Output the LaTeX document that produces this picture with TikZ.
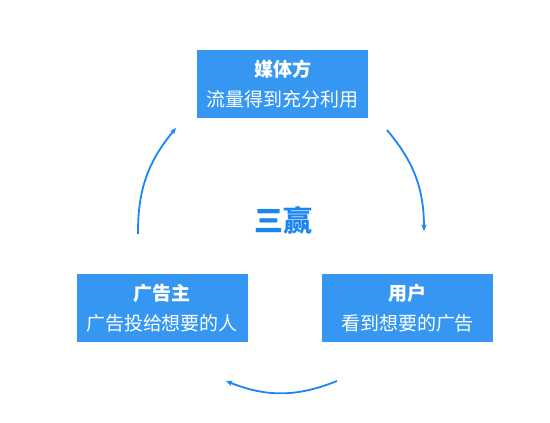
\documentclass[tikz,border=0pt]{standalone}
\usepackage{fontspec}
\setmainfont{Noto Sans CJK SC}
\usepackage{xcolor}
\usepackage{tikz}
\usetikzlibrary{arrows.meta, positioning}

\definecolor{boxblue}{HTML}{3597F1}
\definecolor{arcblue}{HTML}{1C86F0}

\begin{document}
\begin{tikzpicture}[x=1pt,y=1pt,>={Stealth[length=6.5pt,width=5.5pt]}]
	\tikzstyle{party}=[fill=boxblue, text=white, minimum width=171pt, minimum height=68pt, inner sep=0pt, align=center, font=\fontsize{19}{30}\selectfont]
	\useasboundingbox (0,0) rectangle (550,423);

	\node[party] (media) at (282.5,339) {{\bfseries 媒体方}\\流量得到充分利用};
	\node[party] (adv) at (162,114.5) {{\bfseries 广告主}\\广告投给想要的人};
	\node[party] (user) at (407.5,114.5) {{\bfseries 用户}\\看到想要的广告};
	\node[text=arcblue, font=\fontsize{29}{30}\selectfont\bfseries] (win) at (283,203) {三赢};

	\coordinate (a_0) at (138,189);
	\coordinate (a_1) at (176,295);
	\coordinate (b_0) at (387,293);
	\coordinate (b_1) at (424,192);
	\coordinate (c_0) at (337,42);
	\coordinate (c_1) at (226,42);

	\path[->, arcblue, line width=1.8pt]
	(a_0) edge[bend left=20] (a_1)
	(b_0) edge[bend left=20] (b_1)
	(c_0) edge[bend left=22] (c_1);
\end{tikzpicture}
\end{document}
